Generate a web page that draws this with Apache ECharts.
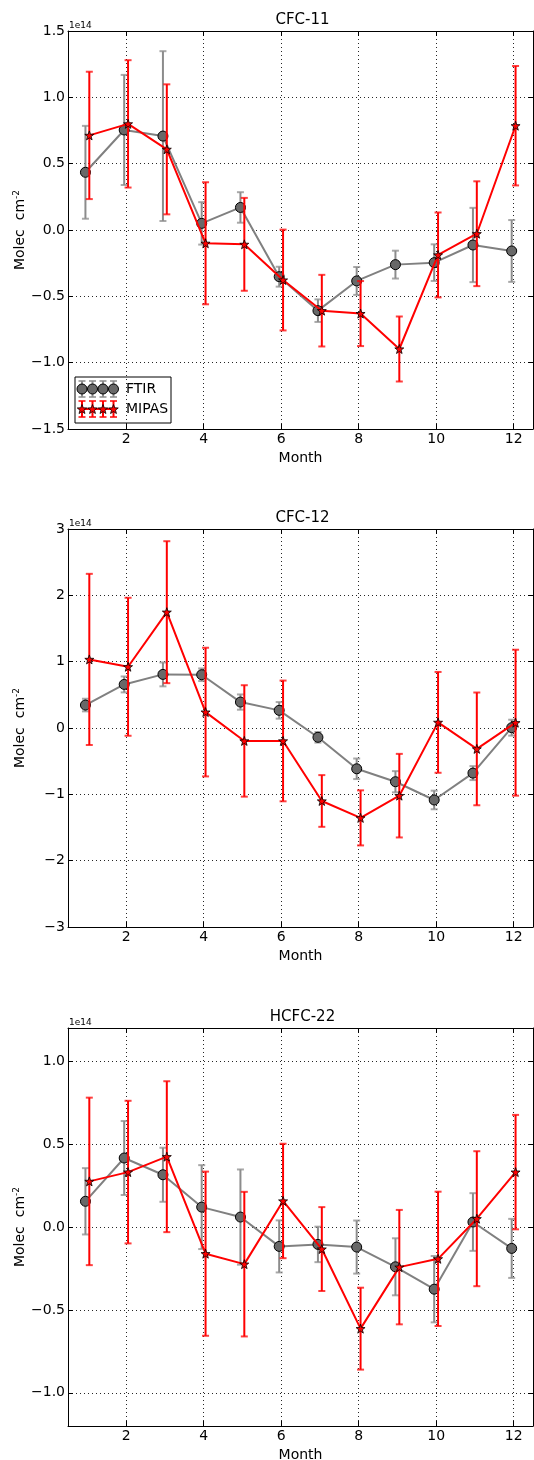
<!DOCTYPE html>
<html>
<head>
<meta charset="utf-8">
<script src="https://cdn.jsdelivr.net/npm/echarts@6/dist/echarts.min.js"></script>
<style>
html,body{margin:0;padding:0;background:#fff;}
#chart{width:534px;height:1460px;}
</style>
</head>
<body>
<div id="chart"></div>
<script>
// ---------------- data (values in units of 1e14 molec cm^-2) ----------------
const months = [1, 2, 3, 4, 5, 6, 7, 8, 9, 10, 11, 12];
const xTicks = [2, 4, 6, 8, 10, 12];

const titles = ['CFC-11', 'CFC-12', 'HCFC-22'];

const cfc11Ftir     = [0.435, 0.754, 0.708, 0.05, 0.17, -0.352, -0.608, -0.384, -0.261, -0.246, -0.113, -0.158];
const cfc11FtirErr  = [0.35, 0.415, 0.64, 0.16, 0.115, 0.075, 0.085, 0.105, 0.105, 0.138, 0.28, 0.233];
const cfc11Mipas    = [0.713, 0.80, 0.608, -0.10, -0.108, -0.377, -0.608, -0.63, -0.897, -0.188, -0.028, 0.786];
const cfc11MipasErr = [0.48, 0.48, 0.49, 0.46, 0.35, 0.38, 0.27, 0.245, 0.245, 0.32, 0.395, 0.45];

const cfc12Ftir     = [0.346, 0.657, 0.808, 0.803, 0.391, 0.266, -0.14, -0.615, -0.81, -1.085, -0.68, 0.005];
const cfc12FtirErr  = [0.095, 0.12, 0.18, 0.095, 0.115, 0.125, 0.08, 0.155, 0.16, 0.14, 0.105, 0.12];
const cfc12Mipas    = [1.034, 0.923, 1.746, 0.24, -0.195, -0.195, -1.10, -1.355, -1.02, 0.085, -0.315, 0.08];
const cfc12MipasErr = [1.29, 1.04, 1.07, 0.97, 0.84, 0.91, 0.39, 0.415, 0.63, 0.76, 0.85, 1.10];

const hcfc22Ftir     = [0.155, 0.416, 0.315, 0.12, 0.06, -0.117, -0.105, -0.121, -0.24, -0.375, 0.03, -0.129];
const hcfc22FtirErr  = [0.20, 0.223, 0.163, 0.253, 0.287, 0.157, 0.107, 0.16, 0.172, 0.20, 0.174, 0.178];
const hcfc22Mipas    = [0.275, 0.331, 0.424, -0.161, -0.224, 0.157, -0.133, -0.613, -0.242, -0.192, 0.05, 0.331];
const hcfc22MipasErr = [0.505, 0.43, 0.455, 0.495, 0.436, 0.345, 0.253, 0.247, 0.345, 0.405, 0.407, 0.345];

const yTicks1 = [-1.5, -1.0, -0.5, 0.0, 0.5, 1.0, 1.5];
const yTicks2 = [-3, -2, -1, 0, 1, 2, 3];
const yTicks3 = [-1.0, -0.5, 0.0, 0.5, 1.0];
const yRanges = [[-1.5, 1.5], [-3, 3], [-1.2, 1.2]];
const yDecimals = [1, 0, 1];

// ---------------- layout ----------------
const FONT = 'DejaVu Sans';
const GRID_LEFT = 68, GRID_RIGHT = 1;
const gridTops = [31, 529, 1028];
const gridH = 398;
const FTIR_SHIFT = -0.05, MIPAS_SHIFT = 0.05;

const panels = [
  {ftir: cfc11Ftir, ftirErr: cfc11FtirErr, mipas: cfc11Mipas, mipasErr: cfc11MipasErr, yTicks: yTicks1},
  {ftir: cfc12Ftir, ftirErr: cfc12FtirErr, mipas: cfc12Mipas, mipasErr: cfc12MipasErr, yTicks: yTicks2},
  {ftir: hcfc22Ftir, ftirErr: hcfc22FtirErr, mipas: hcfc22Mipas, mipasErr: hcfc22MipasErr, yTicks: yTicks3}
];

const STAR = 'path://M0,-10 L2.35,-3.24 L9.51,-3.09 L3.8,1.24 L5.88,8.09 L0,4 L-5.88,8.09 L-3.8,1.24 L-9.51,-3.09 L-2.35,-3.24 Z';

function starPoints(cx, cy, R) {
  const pts = [];
  for (let k = 0; k < 10; k++) {
    const r = k % 2 === 0 ? R : R * 0.42;
    const a = -Math.PI / 2 + k * Math.PI / 5;
    pts.push([cx + r * Math.cos(a), cy + r * Math.sin(a)]);
  }
  return pts;
}

function fmt(v, dec) {
  const s = Math.abs(v).toFixed(dec);
  return (v < -1e-9 ? '\u2212' : '') + s;
}

const grids = [], xAxes = [], yAxes = [], series = [], titleArr = [];
const axisLine = {show: true, onZero: false, lineStyle: {color: '#000', width: 1}};
const tickStyle = {color: '#000', width: 1};

function errRender(color) {
  return function (params, api) {
    const x = api.value(0), y = api.value(1), e = api.value(2);
    const top = api.coord([x, y + e]);
    const bot = api.coord([x, y - e]);
    const cw = 3.5;
    const st = {stroke: color, lineWidth: 2};
    return {
      type: 'group',
      children: [
        {type: 'line', shape: {x1: top[0], y1: top[1], x2: bot[0], y2: bot[1]}, style: st},
        {type: 'line', shape: {x1: top[0] - cw, y1: top[1], x2: top[0] + cw, y2: top[1]}, style: {stroke: color, lineWidth: 2, opacity: 0.75}},
        {type: 'line', shape: {x1: bot[0] - cw, y1: bot[1], x2: bot[0] + cw, y2: bot[1]}, style: {stroke: color, lineWidth: 2, opacity: 0.75}}
      ]
    };
  };
}

panels.forEach((p, i) => {
  grids.push({left: GRID_LEFT, right: GRID_RIGHT, top: gridTops[i], height: gridH,
    containLabel: false, outerBoundsMode: 'none'});
  titleArr.push({
    text: titles[i], left: (GRID_LEFT + 533) / 2 + 2, top: gridTops[i] - 18, textAlign: 'center', padding: 0,
    textStyle: {fontFamily: FONT, fontSize: 15, fontWeight: 'normal', color: '#000'}
  });
  titleArr.push({
    text: '1e14', left: GRID_LEFT + 1, top: gridTops[i] - 10, padding: 0,
    textStyle: {fontFamily: FONT, fontSize: 9, fontWeight: 'normal', color: '#000'}
  });
  xAxes.push({
    type: 'value', gridIndex: i, position: 'bottom', min: 0.5, max: 12.5,
    axisLine: axisLine,
    axisTick: {show: true, inside: true, length: 5, lineStyle: tickStyle, customValues: xTicks},
    axisLabel: {show: true, customValues: xTicks, fontFamily: FONT, fontSize: 14, color: '#000', margin: 3},
    splitLine: {show: true, lineStyle: {color: '#000', width: 1, type: [1, 3], opacity: 0.85}},
    name: 'Month', nameLocation: 'middle', nameGap: 22, nameMoveOverlap: false,
    nameTextStyle: {fontFamily: FONT, fontSize: 14, color: '#000', verticalAlign: 'top'}
  });
  xAxes.push({
    type: 'value', gridIndex: i, position: 'top', min: 0.5, max: 12.5,
    axisLine: axisLine,
    axisTick: {show: true, inside: true, length: 5, lineStyle: tickStyle, customValues: xTicks},
    axisLabel: {show: false}, splitLine: {show: false}
  });
  const dec = yDecimals[i];
  yAxes.push({
    type: 'value', gridIndex: i, position: 'left', min: yRanges[i][0], max: yRanges[i][1],
    axisLine: axisLine,
    axisTick: {show: true, inside: true, length: 5, lineStyle: tickStyle, customValues: p.yTicks},
    axisLabel: {show: true, customValues: p.yTicks, fontFamily: FONT, fontSize: 14, color: '#000', margin: 3,
      formatter: v => fmt(v, dec)},
    splitLine: {show: true, lineStyle: {color: '#000', width: 1, type: [1, 3], opacity: 0.85}},
    name: 'Molec  cm{sup|-2}', nameLocation: 'middle', nameGap: 39, nameRotate: 90, nameMoveOverlap: false,
    nameTextStyle: {fontFamily: FONT, fontSize: 14, color: '#000',
      rich: {sup: {fontFamily: FONT, fontSize: 9, color: '#000', verticalAlign: 'top', padding: [0, 0, 8, 0]}}}
  });
  yAxes.push({
    type: 'value', gridIndex: i, position: 'right', min: yRanges[i][0], max: yRanges[i][1],
    axisLine: axisLine,
    axisTick: {show: true, inside: true, length: 5, lineStyle: tickStyle, customValues: p.yTicks},
    axisLabel: {show: false}, splitLine: {show: false}
  });

  const xi = i * 2, yi = i * 2;
  series.push({
    type: 'custom', name: 'FTIR', xAxisIndex: xi, yAxisIndex: yi,
    renderItem: errRender('#8c8c8c'),
    data: months.map((m, k) => [m + FTIR_SHIFT, p.ftir[k], p.ftirErr[k]]),
    z: 2
  });
  series.push({
    type: 'line', name: 'FTIR', xAxisIndex: xi, yAxisIndex: yi,
    data: months.map((m, k) => [m + FTIR_SHIFT, p.ftir[k]]),
    lineStyle: {color: '#808080', width: 2},
    symbol: 'circle', symbolSize: 10,
    itemStyle: {color: '#686868', borderColor: '#000', borderWidth: 1},
    z: 3
  });
  series.push({
    type: 'custom', name: 'MIPAS', xAxisIndex: xi, yAxisIndex: yi,
    renderItem: errRender('#ff0000'),
    data: months.map((m, k) => [m + MIPAS_SHIFT, p.mipas[k], p.mipasErr[k]]),
    z: 4
  });
  series.push({
    type: 'line', name: 'MIPAS', xAxisIndex: xi, yAxisIndex: yi,
    data: months.map((m, k) => [m + MIPAS_SHIFT, p.mipas[k]]),
    lineStyle: {color: '#ff0000', width: 2},
    symbol: STAR, symbolSize: 9,
    itemStyle: {color: '#ff0000', borderColor: '#000', borderWidth: 0.8},
    z: 5
  });
});

// ---------------- legend (panel 1, lower left) ----------------
function legendRow(y, lineColor, barColor, isStar) {
  const xs = [82, 92.5, 103, 113.5];
  const els = [];
  els.push({type: 'line', shape: {x1: xs[0], y1: y, x2: xs[3], y2: y}, style: {stroke: lineColor, lineWidth: 2}});
  xs.forEach(x => {
    els.push({type: 'line', shape: {x1: x, y1: y - 8, x2: x, y2: y + 8}, style: {stroke: barColor, lineWidth: 2}});
    els.push({type: 'line', shape: {x1: x - 3.5, y1: y - 8, x2: x + 3.5, y2: y - 8}, style: {stroke: barColor, lineWidth: 2, opacity: 0.75}});
    els.push({type: 'line', shape: {x1: x - 3.5, y1: y + 8, x2: x + 3.5, y2: y + 8}, style: {stroke: barColor, lineWidth: 2, opacity: 0.75}});
  });
  xs.forEach(x => {
    if (isStar) {
      els.push({type: 'polygon', shape: {points: starPoints(x, y + 0.5, 5)},
        style: {fill: '#ff0000', stroke: '#000', lineWidth: 0.8}});
    } else {
      els.push({type: 'circle', shape: {cx: x, cy: y, r: 5}, style: {fill: '#686868', stroke: '#000', lineWidth: 1}});
    }
  });
  return els;
}
const legendTextStyle = {fontFamily: FONT, fontSize: 14, fill: '#000', verticalAlign: 'middle'};
const graphic = [{
  type: 'group', z: 100,
  children: [
    {type: 'rect', shape: {x: 75, y: 377, width: 96, height: 46}, style: {fill: '#fff', stroke: '#000', lineWidth: 1}},
    ...legendRow(389, '#808080', '#8c8c8c', false),
    ...legendRow(409, '#ff0000', '#ff0000', true),
    {type: 'text', x: 126, y: 389, style: Object.assign({text: 'FTIR'}, legendTextStyle)},
    {type: 'text', x: 126, y: 409, style: Object.assign({text: 'MIPAS'}, legendTextStyle)}
  ]
}];

const chart = echarts.init(document.getElementById('chart'), null, {renderer: 'canvas'});
chart.setOption({
  backgroundColor: '#fff',
  animation: false,
  title: titleArr,
  grid: grids,
  xAxis: xAxes,
  yAxis: yAxes,
  series: series,
  graphic: graphic
});
</script>
</body>
</html>
